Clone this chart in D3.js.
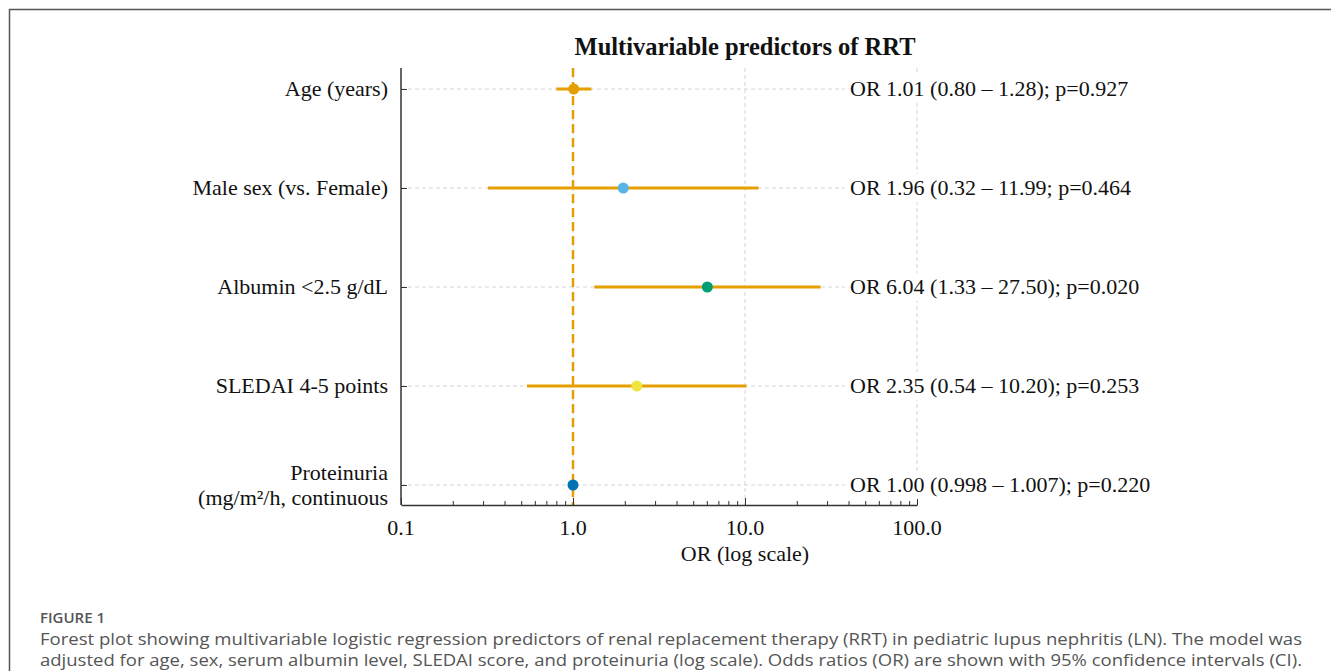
<!DOCTYPE html>
<html>
<head>
<meta charset="utf-8">
<script src="https://cdn.jsdelivr.net/npm/d3@7"></script>
<style>
  body { margin: 0; background: #fff; }
  svg { display: block; }
</style>
</head>
<body>
<script>
const predictors = ['Age (years)', 'Male sex (vs. Female)', 'Albumin <2.5 g/dL', 'SLEDAI 4-5 points', 'Proteinuria|(mg/m²/h, continuous'];
const oddsRatios = [1.01, 1.96, 6.04, 2.35, 1.00];
const ciLow = [0.80, 0.32, 1.33, 0.54, 0.998];
const ciHigh = [1.28, 11.99, 27.50, 10.20, 1.007];
const resultLabels = [
    'OR 1.01 (0.80 \u2013 1.28); p=0.927',
    'OR 1.96 (0.32 \u2013 11.99; p=0.464',
    'OR 6.04 (1.33 \u2013 27.50); p=0.020',
    'OR 2.35 (0.54 \u2013 10.20); p=0.253',
    'OR 1.00 (0.998 \u2013 1.007); p=0.220'
];
const markerColors = ['#E69F00', '#56B4E9', '#009E73', '#F0E442', '#0072B2'];
const xTicks = [0.1, 1, 10, 100];
const xTickLabels = ['0.1', '1.0', '10.0', '100.0'];

const w = 1331;
const h = 671;
const serif = '"Liberation Serif", "Times New Roman", serif';
const orange = '#E69F00';
const fs = 22;

let rows = predictors.map((p, i) => {
    return { label: p, or: oddsRatios[i], lo: ciLow[i], hi: ciHigh[i], text: resultLabels[i], color: markerColors[i] };
});

const svg = d3.select('body').append('svg')
    .attr('width', w)
    .attr('height', h);

// figure frame (top + left edge)
svg.append('path')
    .attr('d', `M9.5,${h} L9.5,9.5 L${w},9.5`)
    .attr('fill', 'none')
    .attr('stroke', '#555')
    .attr('stroke-width', 1.5);

const plotTop = 68;
const plotBottom = 505;

const xScale = d3.scaleLog()
    .domain([0.1, 100])
    .range([401, 917]);

const yScale = d3.scalePoint()
    .domain(predictors)
    .range([89, 485]);

// grid lines
svg.append('g')
    .selectAll('line')
    .data(xTicks.slice(1))
    .enter()
    .append('line')
    .attr('x1', d => xScale(d))
    .attr('x2', d => xScale(d))
    .attr('y1', plotTop)
    .attr('y2', plotBottom)
    .attr('stroke', '#d4d4d4')
    .attr('stroke-width', 1)
    .attr('stroke-dasharray', '4,3');

svg.append('g')
    .selectAll('line')
    .data(rows)
    .enter()
    .append('line')
    .attr('x1', xScale(0.1))
    .attr('x2', 845)
    .attr('y1', d => yScale(d.label))
    .attr('y2', d => yScale(d.label))
    .attr('stroke', '#d4d4d4')
    .attr('stroke-width', 1)
    .attr('stroke-dasharray', '4,3');

// reference line at OR = 1
svg.append('line')
    .attr('x1', xScale(1))
    .attr('x2', xScale(1))
    .attr('y1', plotTop)
    .attr('y2', plotBottom)
    .attr('stroke', orange)
    .attr('stroke-width', 2.5)
    .attr('stroke-dasharray', '9,5');

// axes
const xAxis = d3.axisBottom(xScale)
    .tickValues(d3.range(1, 10).map(k => k * 0.1)
        .concat(d3.range(1, 10)).concat(d3.range(1, 10).map(k => k * 10)).concat([100]))
    .tickSizeInner(-4)
    .tickSizeOuter(0)
    .tickFormat('');

const xAxisG = svg.append('g')
    .attr('transform', `translate(0, ${plotBottom})`)
    .call(xAxis);
xAxisG.select('.domain').attr('stroke', '#333').attr('stroke-width', 1.5);
xAxisG.selectAll('.tick line')
    .attr('stroke', '#333')
    .attr('y2', d => xTicks.includes(+d.toFixed(3)) ? -7 : -4);

svg.append('g')
    .selectAll('text')
    .data(xTicks)
    .enter()
    .append('text')
    .attr('x', d => xScale(d))
    .attr('y', 535)
    .attr('text-anchor', 'middle')
    .attr('font-family', serif)
    .attr('font-size', fs)
    .attr('fill', '#111')
    .text((d, i) => xTickLabels[i]);

svg.append('text')
    .attr('x', xScale(10))
    .attr('y', 561)
    .attr('text-anchor', 'middle')
    .attr('font-family', serif)
    .attr('font-size', fs)
    .attr('fill', '#111')
    .text('OR (log scale)');

const yAxisG = svg.append('g')
    .attr('transform', `translate(${xScale(0.1)}, 0)`)
    .call(d3.axisRight(yScale).tickSizeInner(6).tickSizeOuter(0).tickFormat(''));
yAxisG.select('.domain').attr('d', `M0,${plotTop}V${plotBottom}`).attr('stroke', '#333').attr('stroke-width', 1.5);
yAxisG.selectAll('.tick line').attr('stroke', '#333');

// row labels
let labelG = svg.append('g')
    .selectAll('text')
    .data(rows)
    .enter()
    .append('text')
    .attr('x', 388)
    .attr('y', d => yScale(d.label))
    .attr('text-anchor', 'end')
    .attr('font-family', serif)
    .attr('font-size', fs)
    .attr('fill', '#111');

labelG.each(function (d) {
    let parts = d.label.split('|');
    let t = d3.select(this);
    parts.forEach((p, i) => {
        t.append('tspan')
            .attr('x', 388)
            .attr('dy', i === 0 ? (parts.length > 1 ? -5 : 7) : 25)
            .text(p);
    });
});

// confidence intervals
svg.append('g')
    .selectAll('line')
    .data(rows)
    .enter()
    .append('line')
    .attr('x1', d => xScale(d.lo))
    .attr('x2', d => xScale(d.hi))
    .attr('y1', d => yScale(d.label))
    .attr('y2', d => yScale(d.label))
    .attr('stroke', orange)
    .attr('stroke-width', 3);

svg.append('g')
    .selectAll('circle')
    .data(rows)
    .enter()
    .append('circle')
    .attr('cx', d => xScale(d.or))
    .attr('cy', d => yScale(d.label))
    .attr('r', 5.5)
    .attr('fill', d => d.color);

// OR annotations on the right
const annG = svg.append('g')
    .selectAll('g')
    .data(rows)
    .enter()
    .append('g');

annG.append('rect')
    .attr('x', 846)
    .attr('y', d => yScale(d.label) - 14)
    .attr('width', 320)
    .attr('height', 28)
    .attr('fill', '#fff');

annG.append('text')
    .attr('x', 850)
    .attr('y', d => yScale(d.label) + 7)
    .attr('font-family', serif)
    .attr('font-size', fs)
    .attr('fill', '#111')
    .text(d => d.text);

// title
svg.append('text')
    .attr('x', xScale(10))
    .attr('y', 55)
    .attr('text-anchor', 'middle')
    .attr('font-family', serif)
    .attr('font-weight', 'bold')
    .attr('font-size', 24.5)
    .attr('fill', '#111')
    .text('Multivariable predictors of RRT');

// caption
const sans = '"Open Sans", Lato, sans-serif';
svg.append('text')
    .attr('x', 40)
    .attr('y', 623)
    .attr('font-family', sans)
    .attr('font-weight', 600)
    .attr('font-size', 15)
    .attr('fill', '#555')
    .text('FIGURE 1');

const captionLines = [
    'Forest plot showing multivariable logistic regression predictors of renal replacement therapy (RRT) in pediatric lupus nephritis (LN). The model was',
    'adjusted for age, sex, serum albumin level, SLEDAI score, and proteinuria (log scale). Odds ratios (OR) are shown with 95% confidence intervals (CI).'
];
svg.append('g')
    .selectAll('text')
    .data(captionLines)
    .enter()
    .append('text')
    .attr('x', 40)
    .attr('y', (d, i) => 645 + i * 21)
    .attr('font-family', sans)
    .attr('font-size', 16.5)
    .attr('textLength', 1262)
    .attr('lengthAdjust', 'spacingAndGlyphs')
    .attr('fill', '#555')
    .text(d => d);
</script>
</body>
</html>
